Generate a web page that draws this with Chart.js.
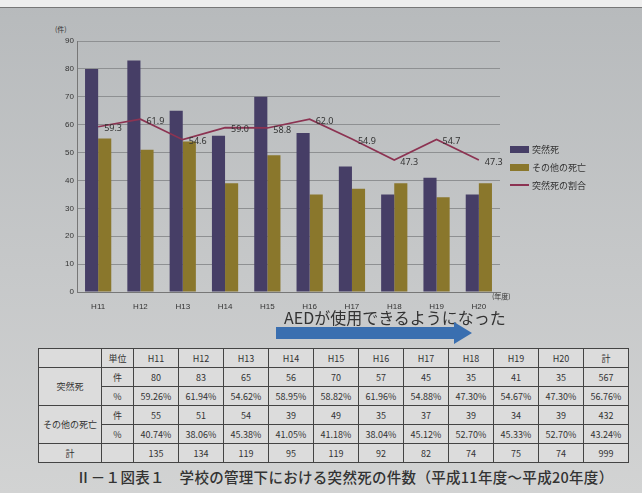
<!DOCTYPE html>
<html>
<head>
<meta charset="utf-8">
<script src="https://cdn.jsdelivr.net/npm/chart.js@4"></script>
<style>
  body { margin: 0; width: 642px; height: 493px; overflow: hidden;
         background: linear-gradient(#b7babc, #c6c8c9 55%, #d2d3d3);
         font-family: "Noto Sans CJK JP", "Noto Sans", sans-serif; position: relative; }
  #top { position: absolute; left: 0; top: 0; width: 642px; height: 7px; background: #eeeeee; border-bottom: 1px solid #777; }
  #wrap { position: absolute; left: 30px; top: 15px; width: 490px; height: 297px; }
  .unit { position: absolute; font-size: 7px; color: #333; }
  #legend { position: absolute; left: 510px; top: 140px; font-size: 9px; color: #333; }
  #legend div { height: 18px; display: flex; align-items: center; }
  #legend span.sw { display: inline-block; width: 19px; margin-right: 3px; }
  #aed { position: absolute; left: 284px; top: 305px; font-size: 16px; color: #333; }
  #arrow { position: absolute; left: 276px; top: 322px; }
  table { position: absolute; left: 38px; top: 348px; border-collapse: collapse; background: #dcdcdc; font-size: 9px; color: #333; }
  td { border: 1px solid #444; height: 18px; padding: 0; text-align: center; width: 44px; }
  td.h { width: 62px; }
  td.u { width: 31px; }
  #cap { position: absolute; left: 76px; top: 466px; font-size: 14.5px; font-weight: 500; color: #333; letter-spacing: 0.3px; }
</style>
</head>
<body>
<div id="top"></div>
<div class="unit" style="left:55px;top:24px;">(件)</div>
<div id="wrap"><canvas id="c" width="490" height="297"></canvas></div>
<div class="unit" style="left:492px;top:291px;">(年度)</div>
<div id="legend">
  <div><span class="sw" style="height:7px;background:#463e66"></span>突然死</div>
  <div><span class="sw" style="height:7px;background:#8a772c"></span>その他の死亡</div>
  <div><span class="sw" style="height:2px;background:#8c3352"></span>突然死の割合</div>
</div>
<div id="aed">AEDが使用できるようになった</div>
<svg id="arrow" width="200" height="22"><polygon points="0,5 178,5 178,0 196,11 178,22 178,17 0,17" fill="#3a6fb0"/></svg>
<table id="tbl"></table>
<div id="cap">Ⅱ－１図表１　学校の管理下における突然死の件数（平成11年度～平成20年度）</div>
<script>
const years = ["H11", "H12", "H13", "H14", "H15", "H16", "H17", "H18", "H19", "H20"];
const suddenDeaths = [80, 83, 65, 56, 70, 57, 45, 35, 41, 35];
const otherDeaths = [55, 51, 54, 39, 49, 35, 37, 39, 34, 39];
const suddenPct = [59.26, 61.94, 54.62, 58.95, 58.82, 61.96, 54.88, 47.30, 54.67, 47.30];
const otherPct = [40.74, 38.06, 45.38, 41.05, 41.18, 38.04, 45.12, 52.70, 45.33, 52.70];
const totals = [135, 134, 119, 95, 119, 92, 82, 74, 75, 74];
const grand = { sudden: 567, suddenPct: 56.76, other: 432, otherPct: 43.24, total: 999 };

// labels for the ratio line
const lineLabels = {
    id: "lineLabels",
    afterDatasetsDraw(chart) {
        const meta = chart.getDatasetMeta(2);
        const ctx = chart.ctx;
        ctx.save();
        ctx.font = "9px 'Noto Sans', sans-serif";
        ctx.fillStyle = "#333";
        ctx.textBaseline = "middle";
        meta.data.forEach((p, i) => {
            ctx.fillText(suddenPct[i].toFixed(1), p.x + 6, p.y + 2);
        });
        ctx.restore();
    }
};

new Chart(document.getElementById("c"), {
    data: {
        labels: years,
        datasets: [
            { type: "bar", label: "突然死", data: suddenDeaths, backgroundColor: "#463e66", order: 1 },
            { type: "bar", label: "その他の死亡", data: otherDeaths, backgroundColor: "#8a772c", order: 1 },
            { type: "line", label: "突然死の割合", data: suddenPct, borderColor: "#8c3352", borderWidth: 1.7,
              pointRadius: 0, tension: 0, order: 0 },
        ],
    },
    options: {
        responsive: false,
        animation: false,
        maintainAspectRatio: false,
        layout: { padding: { top: 26, right: 20, bottom: 0, left: 0 } },
        plugins: { legend: { display: false }, tooltip: { enabled: false } },
        datasets: { bar: { categoryPercentage: 0.62, barPercentage: 1.0 } },
        scales: {
            x: {
                grid: { display: false },
                border: { color: "#777" },
                ticks: { color: "#333", font: { size: 8 }, padding: 2 },
                afterFit: (s) => { s.height = 20; },
            },
            y: {
                min: 0, max: 90,
                ticks: { stepSize: 10, color: "#333", font: { size: 8 } },
                grid: { color: "#8e9092", drawTicks: false },
                border: { color: "#777" },
                afterFit: (s) => { s.width = 47; },
            },
        },
    },
    plugins: [lineLabels],
});

// table below the chart
const tbl = document.getElementById("tbl");
function row(cells) {
    const tr = document.createElement("tr");
    cells.forEach((c) => {
        const td = document.createElement("td");
        if (c.cls) td.className = c.cls;
        if (c.rs) td.rowSpan = c.rs;
        td.textContent = c.t;
        tr.appendChild(td);
    });
    tbl.appendChild(tr);
}
const pct = (v) => v.toFixed(2) + "%";
row([{ t: "", cls: "h" }, { t: "単位", cls: "u" }, ...years.map((y) => ({ t: y })), { t: "計" }]);
row([{ t: "突然死", cls: "h", rs: 2 }, { t: "件", cls: "u" }, ...suddenDeaths.map((v) => ({ t: v })), { t: grand.sudden }]);
row([{ t: "%", cls: "u" }, ...suddenPct.map((v) => ({ t: pct(v) })), { t: pct(grand.suddenPct) }]);
row([{ t: "その他の死亡", cls: "h", rs: 2 }, { t: "件", cls: "u" }, ...otherDeaths.map((v) => ({ t: v })), { t: grand.other }]);
row([{ t: "%", cls: "u" }, ...otherPct.map((v) => ({ t: pct(v) })), { t: pct(grand.otherPct) }]);
row([{ t: "計", cls: "h" }, { t: "", cls: "u" }, ...totals.map((v) => ({ t: v })), { t: grand.total }]);
</script>
</body>
</html>
